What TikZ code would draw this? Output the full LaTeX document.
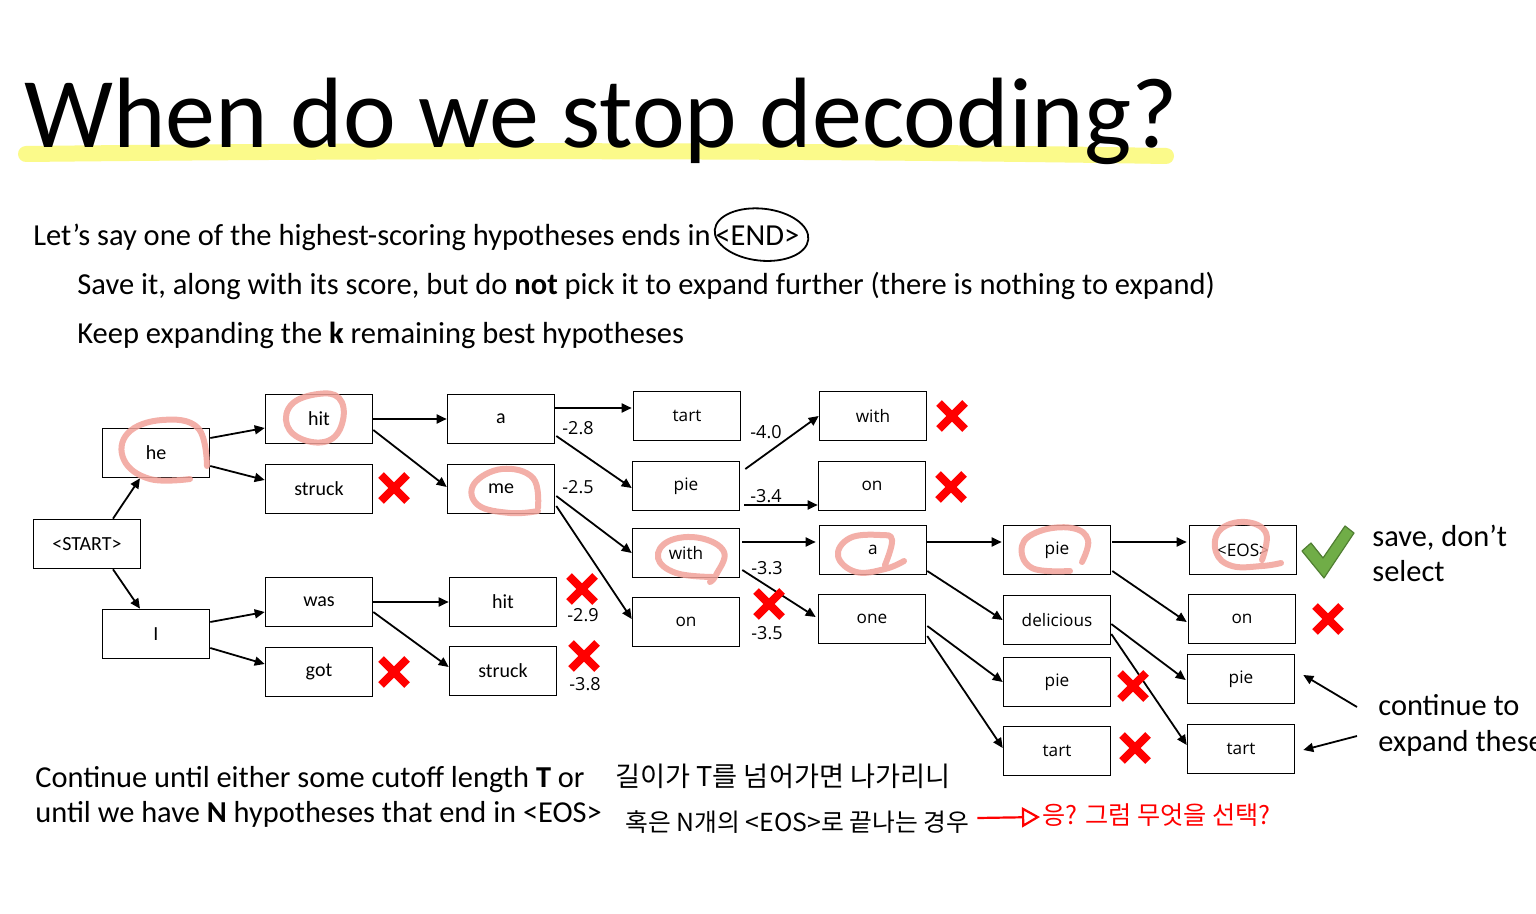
\documentclass[tikz,border=0pt]{standalone}
\usepackage{fontspec}
\setmainfont{Carlito}
\newfontfamily\osans{Open Sans}
\newfontfamily\kr{Noto Sans CJK KR}
\usetikzlibrary{arrows.meta,calc}
\definecolor{hlpink}{HTML}{F2A199}
\definecolor{hlyellow}{HTML}{FBFA8A}
\definecolor{chkgreen}{HTML}{70AD47}
\definecolor{chkdark}{HTML}{507E32}
\begin{document}
\begin{tikzpicture}[x=0.5pt,y=-0.5pt,
  box/.style={draw, line width=0.8pt, minimum width=53.5pt, minimum height=24.5pt, inner sep=0pt, font=\fontsize{10}{12}\selectfont},
  boxb/.style={box, font=\osans\fontsize{8.6}{11}\selectfont},
  arr/.style={-{Triangle[length=5pt,width=4.5pt]}, line width=0.9pt},
  score/.style={font=\osans\fontsize{9}{11}\selectfont, inner sep=0pt},
  hl/.style={line width=3pt, color=hlpink, opacity=0.85, line cap=round, line join=round},
  body/.style={anchor=base west, inner sep=0pt, font=\fontsize{15.25}{18}\selectfont},
  side/.style={anchor=base west, inner sep=0pt, font=\fontsize{15.2}{18}\selectfont},
  redx/.pic={\draw[line width=4pt, red] (-13,-13)--(13,13) (-13,13)--(13,-13);}
]
\clip (0,0) rectangle (1536,914);
\fill[white] (0,0) rectangle (1536,914);

% title
\draw[line width=8pt, hlyellow, line cap=round] (26,154) .. controls (400,150) and (800,150) .. (1166,156);
\node[anchor=base west, inner sep=0pt, font=\fontsize{50}{58}\selectfont] (title) at (24,148) {When do we stop decoding?};

% body text
\node[body] (l1) at (33,246) {Let’s say one of the highest-scoring hypotheses ends in};
\node[body, anchor=base west] (endtok) at ($(l1.base east)+(4,0)$) {<END>};
\draw[line width=0.9pt, rotate around={-6:($(endtok.center)+(4,-2)$)}] ($(endtok.center)+(4,-2)$) ellipse [x radius=47, y radius=26];
\node[body] (l2) at (77,295) {Save it, along with its score, but do \textbf{not} pick it to expand further (there is nothing to expand)};
\node[body] (l3) at (77,344) {Keep expanding the \textbf{k} remaining best hypotheses};

% boxes
\node[box] (start) at (87,544) {<START>};
\node[box] (he) at (156,453) {he};
\node[box] (I) at (156,634) {I};
\node[box] (hit) at (319,419) {hit};
\node[box] (struck) at (319,489) {struck};
\node[box] (was) at (319,602) {was};
\node[box] (got) at (319,672) {got};
\node[box] (a) at (501,419) {a};
\node[box] (me) at (501,489) {me};
\node[box] (hitb) at (503,602) {hit};
\node[box] (struckb) at (503,671) {struck};
\node[boxb] (tart) at (687,416) {tart};
\node[boxb] (pie) at (686,486) {pie};
\node[boxb] (with) at (686,553) {with};
\node[boxb] (on) at (686,622) {on};
\node[boxb] (withb) at (873,416) {with};
\node[boxb] (onb) at (872,486) {on};
\node[boxb] (ab) at (873,550) {a};
\node[boxb] (one) at (872,619) {one};
\node[boxb] (piec) at (1057,550) {pie};
\node[boxb] (delicious) at (1057,620) {delicious};
\node[boxb] (pied) at (1057,682) {pie};
\node[boxb] (tartd) at (1057,751) {tart};
\node[boxb] (eos) at (1243,550) {<EOS>};
\node[boxb] (one5) at (1242,619) {on};
\node[boxb] (pie5) at (1241,679) {pie};
\node[boxb] (tart5) at (1241,749) {tart};

% arrows
\draw[arr] ($(start.north)+(26,0)$) -- ($(he.south)+(-16,0)$);
\draw[arr] ($(start.south)+(26,0)$) -- ($(I.north)+(-16,0)$);
\draw[arr] ($(he.east)+(0,-15)$) -- ($(hit.west)+(0,9)$);
\draw[arr] ($(he.east)+(0,13)$) -- ($(struck.west)+(0,-9)$);
\draw[arr] ($(I.east)+(0,-12)$) -- ($(was.west)+(0,10)$);
\draw[arr] ($(I.east)+(0,14)$) -- ($(got.west)+(0,-8)$);
\draw[arr] (hit.east) -- (a.west);
\draw[arr] ($(hit.east)+(0,11)$) -- ($(me.west)+(0,-2)$);
\draw[arr] (was.east) -- (hitb.west);
\draw[arr] ($(was.east)+(0,10)$) -- ($(struckb.west)+(0,-4)$);
\draw[arr] ($(a.east)+(0,-11)$) -- ($(tart.west)+(-1,-8)$);
\draw[arr] ($(a.east)+(1,17)$) -- ($(pie.west)+(0,2)$);
\draw[arr] ($(me.east)+(1,7)$) -- (with.west);
\draw[arr] ($(me.east)+(1,17)$) -- ($(on.west)+(0,-3)$);
\draw[arr] ($(pie.east)+(5,-17)$) -- (withb.west);
\draw[arr] ($(pie.east)+(4,19)$) -- ($(onb.west)+(0,19)$);
\draw[arr] ($(with.east)+(2,-11)$) -- ($(ab.west)+(-3,-8)$);
\draw[arr] ($(with.east)+(2,17)$) -- ($(one.west)+(-2,-2)$);
\draw[arr] ($(ab.east)+(0,-8)$) -- ($(piec.west)+(-1,-8)$);
\draw[arr] ($(ab.east)+(0,21)$) -- (delicious.west);
\draw[arr] ($(one.east)+(1,7)$) -- (pied.west);
\draw[arr] ($(one.east)+(1,17)$) -- ($(tartd.west)+(0,-3)$);
\draw[arr] ($(piec.east)+(1,-8)$) -- ($(eos.west)+(-2,-8)$);
\draw[arr] ($(piec.east)+(1,21)$) -- ($(one5.west)+(-1,3)$);
\draw[arr] ($(delicious.east)+(0,4)$) -- ($(pie5.west)+(-1,1)$);
\draw[arr] ($(delicious.east)+(0,14)$) -- ($(tart5.west)+(0,-4)$);

% scores
\node[score] (s1) at (578,428) {-2.8};
\node[score] (s2) at (578,487) {-2.5};
\node[score] (s3) at (583,615) {-2.9};
\node[score] (s4) at (585,684) {-3.8};
\node[score] (s5) at (766,432) {-4.0};
\node[score] (s6) at (766,496) {-3.4};
\node[score] (s7) at (767,568) {-3.3};
\node[score] (s8) at (767,633) {-3.5};

% red crosses
\pic at (394,488) {redx};
\pic at (394,672) {redx};
\pic at (582,589) {redx};
\pic at (584,656) {redx};
\pic at (769,604) {redx};
\pic at (952,416) {redx};
\pic at (951,487) {redx};
\pic at (1133,686) {redx};
\pic at (1135,748) {redx};
\pic at (1328,619) {redx};

% green check
\filldraw[fill=chkgreen, draw=chkdark, line width=0.6pt, line join=round]
  (1302,551) -- (1311,543) -- (1323,558) -- (1345,526) -- (1354,533) -- (1324,578) -- cycle;

% side notes
\node[side] (save1) at (1372,546) {save, don’t};
\node[side] (save2) at (1372,581) {select};
\node[side] (cont1) at (1378,715) {continue to};
\node[side] (cont2) at (1378,751) {expand these};
\coordinate (c1) at (1357,707);
\coordinate (c2) at (1357,736);
\draw[arr] (c1) -- ($(pie5.east)+(8,-4)$);
\draw[arr] (c2) -- ($(tart5.east)+(8,1)$);

% bottom text
\node[side] (b1) at (35,787) {Continue until either some cutoff length \textbf{T} or};
\node[side] (b2) at (35,822) {until we have \textbf{N} hypotheses that end in <EOS>};

% handwritten notes
\node[anchor=west, inner sep=0pt, font=\kr\fontsize{13.6}{16}\selectfont] (kr1) at (615,776) {길이가 T를 넘어가면 나가리니};
\node[anchor=west, inner sep=0pt, font=\kr\fontsize{12.4}{15}\selectfont] (kr2) at (625,822) {혹은 N개의 <EOS>로 끝나는 경우};
\node[anchor=west, inner sep=0pt, text=red, font=\kr\fontsize{12.6}{15}\selectfont] (kr3) at (1042,815) {응? 그럼 무엇을 선택?};
\draw[red, line width=1.1pt, -{Triangle[open, length=9pt, width=10pt]}] ($(kr2.east)+(8,-4)$) -- ($(kr3.west)+(-2,2)$);

% pink highlighter loops
\draw[hl] plot[smooth, tension=0.7] coordinates {(190,479) (150,479) (124,460) (128,433) (162,420) (198,428) (207,466)};
\draw[hl] plot[smooth cycle, tension=0.7] coordinates {(318,394) (292,404) (287,425) (304,440) (330,440) (343,420) (339,398)};
\draw[hl] plot[smooth, tension=0.7] coordinates {(538,508) (533,478) (502,469) (474,484) (478,505) (510,513) (538,511)};
\draw[hl] plot[smooth, tension=0.7] coordinates {(710,582) (716,575) (724,552) (700,538) (669,541) (658,558) (676,573) (712,577)};
\draw[hl] plot[smooth, tension=0.7] coordinates {(904,561) (885,569) (856,572) (838,556) (850,538) (880,535) (892,540) (885,565)};
\draw[hl] plot[smooth, tension=0.7] coordinates {(1082,562) (1088,540) (1072,528) (1040,531) (1022,546) (1032,568) (1070,571)};
\draw[hl] plot[smooth, tension=0.7] coordinates {(1281,563) (1262,566) (1232,566) (1216,552) (1220,530) (1245,522) (1266,533) (1262,560)};
\end{tikzpicture}
\end{document}
